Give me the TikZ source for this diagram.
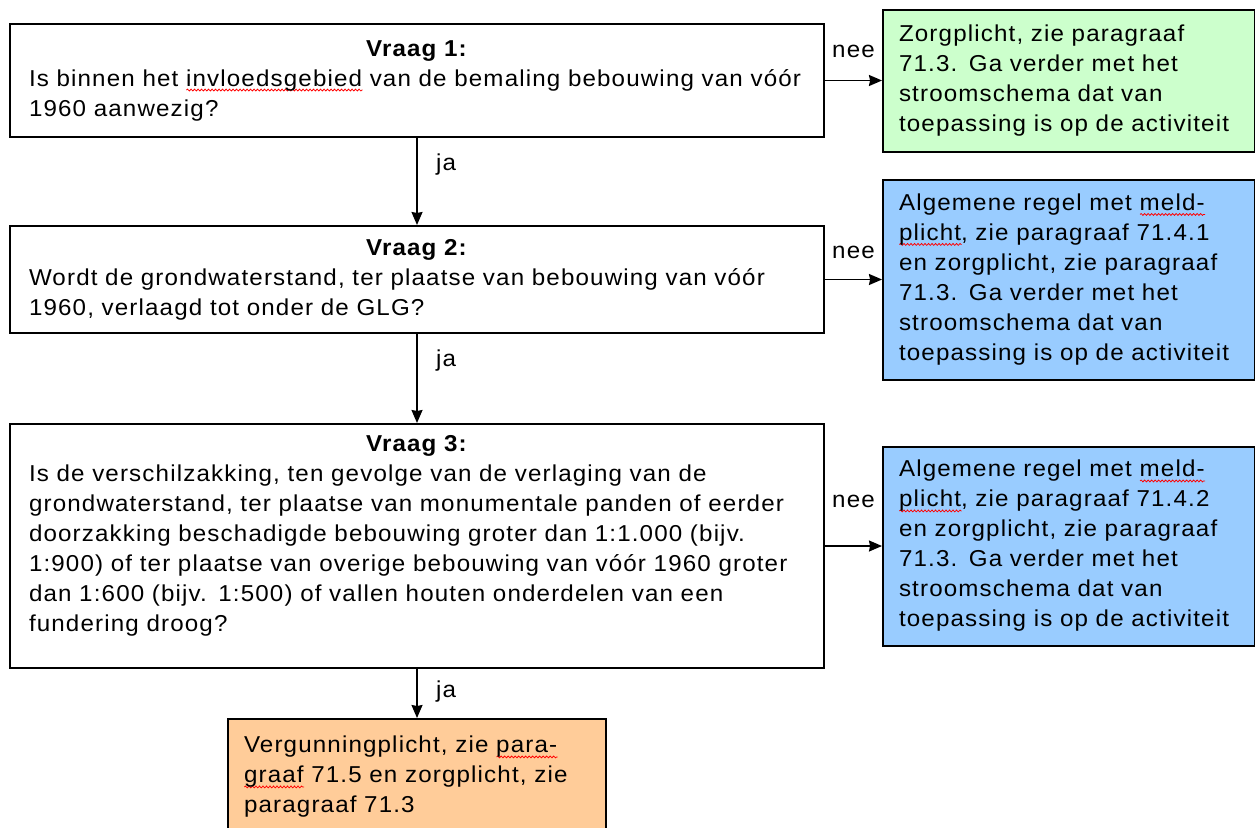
\documentclass[tikz,border=0pt]{standalone}
\usepackage{fontspec}
\setmainfont{Liberation Sans}[FakeStretch=1.05,LetterSpace=5]
\usetikzlibrary{positioning,arrows.meta,decorations.pathmorphing}

\definecolor{zorggreen}{RGB}{204,255,204}
\definecolor{meldblue}{RGB}{153,204,255}
\definecolor{vergunorange}{RGB}{255,204,153}

% red squiggle of the spell checker
\newcommand{\spelfout}[1]{\leavevmode\setbox0=\hbox{#1}\rlap{\raisebox{-4pt}{\tikz[baseline=0pt]\draw[red, line width=0.8pt, decorate, decoration={snake, amplitude=0.9pt, segment length=3.5pt}] (0pt,0pt) -- (\the\wd0,0pt);}}\box0\relax}

\begin{document}
\begin{tikzpicture}[
            x=1pt, y=-1pt,
            node distance=57pt,
            auto,
            vraag/.style={
                rectangle,
                text width=776pt,
                inner xsep=19pt,
                inner ysep=0pt,
                align=left,
                draw=black,
                line width=2pt,
                fill=white,
                font=\fontsize{23}{30}\selectfont
            },
            uitkomst/.style={
                rectangle,
                text width=340pt,
                inner xsep=16pt,
                inner ysep=0pt,
                align=left,
                draw=black,
                line width=2pt,
                font=\fontsize{23}{30}\selectfont
            },
            arrow/.style={
                line width=1.5pt,
                -{Stealth[length=13pt, width=11pt, inset=1pt]}
            },
            antwoord/.style={
                font=\fontsize{23}{30}\selectfont
            }
        ]
            \useasboundingbox (0,0) rectangle (1255,827);
            \clip (0,0) rectangle (1255,827);

            % Define nodes
            \node[vraag, minimum height=113pt, anchor=north west] (vraag1) at (9,23)
                {\noindent\makebox[\hsize]{\textbf{Vraag 1:}}\\
                 Is binnen het \spelfout{invloedsgebied} van de bemaling bebouwing van vóór\\
                 1960 aanwezig?};
            \node[vraag, minimum height=107pt, below=87pt of vraag1] (vraag2)
                {\noindent\makebox[\hsize]{\textbf{Vraag 2:}}\\
                 Wordt de grondwaterstand, ter plaatse van bebouwing van vóór\\
                 1960, verlaagd tot onder de GLG?};
            \node[vraag, minimum height=244pt, below=89pt of vraag2] (vraag3)
                {\noindent\makebox[\hsize]{\textbf{Vraag 3:}}\\
                 Is de verschilzakking, ten gevolge van de verlaging van de\\
                 grondwaterstand, ter plaatse van monumentale panden of eerder\\
                 doorzakking beschadigde bebouwing groter dan 1:1.000 (bijv.\\
                 1:900) of ter plaatse van overige bebouwing van vóór 1960 groter\\
                 dan 1:600 (bijv. 1:500) of vallen houten onderdelen van een\\
                 fundering droog?\\[-4pt]\mbox{}};
            \node[uitkomst, fill=zorggreen, minimum height=142pt, right=of vraag1] (zorg)
                {Zorgplicht, zie paragraaf\\
                 71.3. Ga verder met het\\
                 stroomschema dat van\\
                 toepassing is op de activiteit};
            \node[uitkomst, fill=meldblue, minimum height=200pt, right=of vraag2] (meld1)
                {Algemene regel met \spelfout{meld-}\\
                 \spelfout{plicht}, zie paragraaf 71.4.1\\
                 en zorgplicht, zie paragraaf\\
                 71.3. Ga verder met het\\
                 stroomschema dat van\\
                 toepassing is op de activiteit};
            \node[uitkomst, fill=meldblue, minimum height=199pt, right=of vraag3] (meld2)
                {Algemene regel met \spelfout{meld-}\\
                 \spelfout{plicht}, zie paragraaf 71.4.2\\
                 en zorgplicht, zie paragraaf\\
                 71.3. Ga verder met het\\
                 stroomschema dat van\\
                 toepassing is op de activiteit};
            \node[uitkomst, fill=vergunorange, text width=346pt, minimum height=116pt, below=49pt of vraag3] (vergun)
                {Vergunningplicht, zie \spelfout{para-}\\
                 \spelfout{graaf} 71.5 en zorgplicht, zie\\
                 paragraaf 71.3};

            % Draw edges
            \draw[arrow] (vraag1) -- node[antwoord, pos=0.3, right=15pt] {ja} (vraag2);
            \draw[arrow] (vraag2) -- node[antwoord, pos=0.3, right=15pt] {ja} (vraag3);
            \draw[arrow] (vraag3) -- node[antwoord, pos=0.45, right=15pt] {ja} (vergun);
            \draw[arrow] (vraag1) -- node[antwoord, yshift=19pt] {nee} (zorg);
            \draw[arrow] (vraag2.east) -- node[antwoord, yshift=17pt] {nee} (vraag2.east -| meld1.west);
            \draw[arrow] (vraag3.east) -- node[antwoord, yshift=34pt] {nee} (vraag3.east -| meld2.west);
        \end{tikzpicture}
\end{document}
